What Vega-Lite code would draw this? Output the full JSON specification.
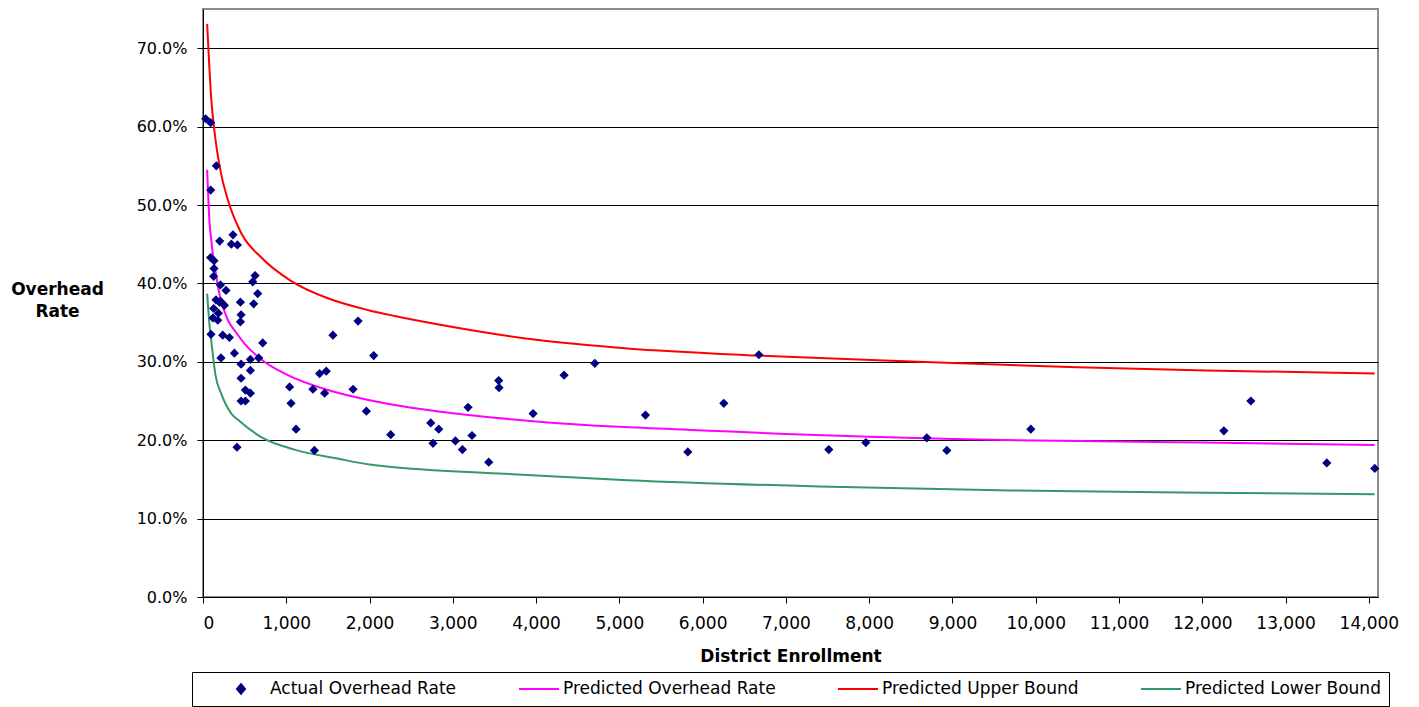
{
  "$schema": "https://vega.github.io/schema/vega-lite/v6.json",
  "width": 1175,
  "height": 588,
  "autosize": {"type": "none"},
  "padding": {"left": 203, "top": 9, "right": 41, "bottom": 110},
  "background": "white",
  "config": {
    "font": "DejaVu Sans",
    "view": {"stroke": "#8c8c8c", "strokeWidth": 2},
    "axis": {"labelFont": "DejaVu Sans", "labelColor": "black", "titleColor": "black", "titleFont": "DejaVu Sans", "domainColor": "black", "tickColor": "black", "domainWidth": 1, "tickWidth": 1}
  },
  "data": {
    "values": [
      {"s": "Actual Overhead Rate", "x": 32, "y": 0.610},
      {"s": "Actual Overhead Rate", "x": 92, "y": 0.605},
      {"s": "Actual Overhead Rate", "x": 160, "y": 0.550},
      {"s": "Actual Overhead Rate", "x": 92, "y": 0.519},
      {"s": "Actual Overhead Rate", "x": 200, "y": 0.454},
      {"s": "Actual Overhead Rate", "x": 360, "y": 0.462},
      {"s": "Actual Overhead Rate", "x": 340, "y": 0.450},
      {"s": "Actual Overhead Rate", "x": 413, "y": 0.449},
      {"s": "Actual Overhead Rate", "x": 92, "y": 0.433},
      {"s": "Actual Overhead Rate", "x": 132, "y": 0.429},
      {"s": "Actual Overhead Rate", "x": 132, "y": 0.419},
      {"s": "Actual Overhead Rate", "x": 128, "y": 0.409},
      {"s": "Actual Overhead Rate", "x": 625, "y": 0.410},
      {"s": "Actual Overhead Rate", "x": 597, "y": 0.402},
      {"s": "Actual Overhead Rate", "x": 209, "y": 0.398},
      {"s": "Actual Overhead Rate", "x": 276, "y": 0.391},
      {"s": "Actual Overhead Rate", "x": 657, "y": 0.387},
      {"s": "Actual Overhead Rate", "x": 156, "y": 0.379},
      {"s": "Actual Overhead Rate", "x": 213, "y": 0.377},
      {"s": "Actual Overhead Rate", "x": 197, "y": 0.376},
      {"s": "Actual Overhead Rate", "x": 257, "y": 0.372},
      {"s": "Actual Overhead Rate", "x": 449, "y": 0.376},
      {"s": "Actual Overhead Rate", "x": 609, "y": 0.374},
      {"s": "Actual Overhead Rate", "x": 128, "y": 0.368},
      {"s": "Actual Overhead Rate", "x": 185, "y": 0.362},
      {"s": "Actual Overhead Rate", "x": 120, "y": 0.356},
      {"s": "Actual Overhead Rate", "x": 177, "y": 0.353},
      {"s": "Actual Overhead Rate", "x": 457, "y": 0.360},
      {"s": "Actual Overhead Rate", "x": 449, "y": 0.351},
      {"s": "Actual Overhead Rate", "x": 96, "y": 0.335},
      {"s": "Actual Overhead Rate", "x": 237, "y": 0.334},
      {"s": "Actual Overhead Rate", "x": 317, "y": 0.331},
      {"s": "Actual Overhead Rate", "x": 717, "y": 0.324},
      {"s": "Actual Overhead Rate", "x": 1560, "y": 0.334},
      {"s": "Actual Overhead Rate", "x": 377, "y": 0.311},
      {"s": "Actual Overhead Rate", "x": 216, "y": 0.305},
      {"s": "Actual Overhead Rate", "x": 457, "y": 0.297},
      {"s": "Actual Overhead Rate", "x": 569, "y": 0.303},
      {"s": "Actual Overhead Rate", "x": 669, "y": 0.305},
      {"s": "Actual Overhead Rate", "x": 569, "y": 0.289},
      {"s": "Actual Overhead Rate", "x": 457, "y": 0.279},
      {"s": "Actual Overhead Rate", "x": 509, "y": 0.264},
      {"s": "Actual Overhead Rate", "x": 569, "y": 0.260},
      {"s": "Actual Overhead Rate", "x": 457, "y": 0.250},
      {"s": "Actual Overhead Rate", "x": 509, "y": 0.250},
      {"s": "Actual Overhead Rate", "x": 1040, "y": 0.268},
      {"s": "Actual Overhead Rate", "x": 1057, "y": 0.247},
      {"s": "Actual Overhead Rate", "x": 1117, "y": 0.214},
      {"s": "Actual Overhead Rate", "x": 408, "y": 0.191},
      {"s": "Actual Overhead Rate", "x": 1338, "y": 0.187},
      {"s": "Actual Overhead Rate", "x": 1320, "y": 0.265},
      {"s": "Actual Overhead Rate", "x": 1460, "y": 0.260},
      {"s": "Actual Overhead Rate", "x": 1400, "y": 0.285},
      {"s": "Actual Overhead Rate", "x": 1480, "y": 0.288},
      {"s": "Actual Overhead Rate", "x": 1862, "y": 0.352},
      {"s": "Actual Overhead Rate", "x": 2050, "y": 0.308},
      {"s": "Actual Overhead Rate", "x": 1802, "y": 0.265},
      {"s": "Actual Overhead Rate", "x": 1962, "y": 0.237},
      {"s": "Actual Overhead Rate", "x": 2254, "y": 0.207},
      {"s": "Actual Overhead Rate", "x": 2735, "y": 0.222},
      {"s": "Actual Overhead Rate", "x": 2831, "y": 0.214},
      {"s": "Actual Overhead Rate", "x": 2762, "y": 0.196},
      {"s": "Actual Overhead Rate", "x": 3031, "y": 0.199},
      {"s": "Actual Overhead Rate", "x": 3115, "y": 0.188},
      {"s": "Actual Overhead Rate", "x": 3230, "y": 0.206},
      {"s": "Actual Overhead Rate", "x": 3183, "y": 0.242},
      {"s": "Actual Overhead Rate", "x": 3431, "y": 0.172},
      {"s": "Actual Overhead Rate", "x": 3551, "y": 0.276},
      {"s": "Actual Overhead Rate", "x": 3555, "y": 0.267},
      {"s": "Actual Overhead Rate", "x": 3964, "y": 0.234},
      {"s": "Actual Overhead Rate", "x": 4336, "y": 0.283},
      {"s": "Actual Overhead Rate", "x": 4705, "y": 0.298},
      {"s": "Actual Overhead Rate", "x": 5313, "y": 0.232},
      {"s": "Actual Overhead Rate", "x": 5822, "y": 0.185},
      {"s": "Actual Overhead Rate", "x": 6254, "y": 0.247},
      {"s": "Actual Overhead Rate", "x": 6675, "y": 0.309},
      {"s": "Actual Overhead Rate", "x": 7515, "y": 0.188},
      {"s": "Actual Overhead Rate", "x": 7960, "y": 0.197},
      {"s": "Actual Overhead Rate", "x": 8692, "y": 0.203},
      {"s": "Actual Overhead Rate", "x": 8932, "y": 0.187},
      {"s": "Actual Overhead Rate", "x": 9941, "y": 0.214},
      {"s": "Actual Overhead Rate", "x": 12259, "y": 0.212},
      {"s": "Actual Overhead Rate", "x": 12583, "y": 0.250},
      {"s": "Actual Overhead Rate", "x": 13495, "y": 0.171},
      {"s": "Actual Overhead Rate", "x": 14071, "y": 0.164},

      {"s": "Predicted Overhead Rate", "x": 50, "y": 0.545},
      {"s": "Predicted Overhead Rate", "x": 80, "y": 0.475},
      {"s": "Predicted Overhead Rate", "x": 100, "y": 0.455},
      {"s": "Predicted Overhead Rate", "x": 120, "y": 0.435},
      {"s": "Predicted Overhead Rate", "x": 150, "y": 0.415},
      {"s": "Predicted Overhead Rate", "x": 200, "y": 0.385},
      {"s": "Predicted Overhead Rate", "x": 300, "y": 0.353},
      {"s": "Predicted Overhead Rate", "x": 400, "y": 0.337},
      {"s": "Predicted Overhead Rate", "x": 500, "y": 0.323},
      {"s": "Predicted Overhead Rate", "x": 700, "y": 0.303},
      {"s": "Predicted Overhead Rate", "x": 1000, "y": 0.284},
      {"s": "Predicted Overhead Rate", "x": 1500, "y": 0.264},
      {"s": "Predicted Overhead Rate", "x": 2000, "y": 0.251},
      {"s": "Predicted Overhead Rate", "x": 2500, "y": 0.2415},
      {"s": "Predicted Overhead Rate", "x": 3000, "y": 0.2345},
      {"s": "Predicted Overhead Rate", "x": 4000, "y": 0.224},
      {"s": "Predicted Overhead Rate", "x": 5000, "y": 0.217},
      {"s": "Predicted Overhead Rate", "x": 6000, "y": 0.2125},
      {"s": "Predicted Overhead Rate", "x": 7000, "y": 0.208},
      {"s": "Predicted Overhead Rate", "x": 8000, "y": 0.2045},
      {"s": "Predicted Overhead Rate", "x": 9000, "y": 0.2015},
      {"s": "Predicted Overhead Rate", "x": 10000, "y": 0.1995},
      {"s": "Predicted Overhead Rate", "x": 11000, "y": 0.1985},
      {"s": "Predicted Overhead Rate", "x": 12000, "y": 0.197},
      {"s": "Predicted Overhead Rate", "x": 13000, "y": 0.1955},
      {"s": "Predicted Overhead Rate", "x": 14070, "y": 0.194},

      {"s": "Predicted Upper Bound", "x": 50, "y": 0.731},
      {"s": "Predicted Upper Bound", "x": 100, "y": 0.634},
      {"s": "Predicted Upper Bound", "x": 140, "y": 0.592},
      {"s": "Predicted Upper Bound", "x": 200, "y": 0.549},
      {"s": "Predicted Upper Bound", "x": 300, "y": 0.506},
      {"s": "Predicted Upper Bound", "x": 460, "y": 0.464},
      {"s": "Predicted Upper Bound", "x": 700, "y": 0.433},
      {"s": "Predicted Upper Bound", "x": 1060, "y": 0.403},
      {"s": "Predicted Upper Bound", "x": 1500, "y": 0.381},
      {"s": "Predicted Upper Bound", "x": 2000, "y": 0.3655},
      {"s": "Predicted Upper Bound", "x": 2300, "y": 0.3585},
      {"s": "Predicted Upper Bound", "x": 3000, "y": 0.3445},
      {"s": "Predicted Upper Bound", "x": 4000, "y": 0.328},
      {"s": "Predicted Upper Bound", "x": 5100, "y": 0.317},
      {"s": "Predicted Upper Bound", "x": 6650, "y": 0.308},
      {"s": "Predicted Upper Bound", "x": 8600, "y": 0.300},
      {"s": "Predicted Upper Bound", "x": 10500, "y": 0.293},
      {"s": "Predicted Upper Bound", "x": 12050, "y": 0.289},
      {"s": "Predicted Upper Bound", "x": 14070, "y": 0.285},

      {"s": "Predicted Lower Bound", "x": 50, "y": 0.387},
      {"s": "Predicted Lower Bound", "x": 80, "y": 0.345},
      {"s": "Predicted Lower Bound", "x": 100, "y": 0.326},
      {"s": "Predicted Lower Bound", "x": 150, "y": 0.283},
      {"s": "Predicted Lower Bound", "x": 220, "y": 0.259},
      {"s": "Predicted Lower Bound", "x": 340, "y": 0.234},
      {"s": "Predicted Lower Bound", "x": 420, "y": 0.226},
      {"s": "Predicted Lower Bound", "x": 700, "y": 0.204},
      {"s": "Predicted Lower Bound", "x": 1100, "y": 0.188},
      {"s": "Predicted Lower Bound", "x": 1640, "y": 0.176},
      {"s": "Predicted Lower Bound", "x": 2000, "y": 0.169},
      {"s": "Predicted Lower Bound", "x": 3550, "y": 0.1575},
      {"s": "Predicted Lower Bound", "x": 5100, "y": 0.149},
      {"s": "Predicted Lower Bound", "x": 7400, "y": 0.141},
      {"s": "Predicted Lower Bound", "x": 9700, "y": 0.136},
      {"s": "Predicted Lower Bound", "x": 12050, "y": 0.133},
      {"s": "Predicted Lower Bound", "x": 14070, "y": 0.131}
    ]
  },
  "encoding": {
    "x": {
      "field": "x", "type": "quantitative",
      "scale": {"domain": [0, 14110], "nice": false, "zero": true},
      "axis": {
        "values": [0,1000,2000,3000,4000,5000,6000,7000,8000,9000,10000,11000,12000,13000,14000],
        "format": ",d", "grid": false, "tickSize": 6, "labelPadding": 12, "labelFontSize": 17,
        "labelBaseline": "top",
        "title": "District Enrollment", "titleFontSize": 17, "titleFontWeight": "bold",
        "titleBaseline": "alphabetic", "titleY": 64
      }
    },
    "y": {
      "field": "y", "type": "quantitative",
      "scale": {"domain": [0, 0.75], "nice": false},
      "axis": {
        "values": [0,0.1,0.2,0.3,0.4,0.5,0.6,0.7],
        "format": ".1%", "grid": true, "gridColor": "black", "gridOpacity": 1, "gridWidth": 1,
        "tickSize": 6, "labelPadding": 10, "labelFontSize": 16,
        "title": ["Overhead", "Rate"], "titleAngle": 0, "titleAlign": "center", "titleBaseline": "alphabetic",
        "titleX": -146, "titleY": 285, "titleLineHeight": 22, "titleFontSize": 17, "titleFontWeight": "bold"
      }
    }
  },
  "layer": [
    {
      "transform": [{"filter": "datum.s !== 'Actual Overhead Rate'"}],
      "mark": {"type": "line", "interpolate": "monotone"},
      "encoding": {
        "color": {
          "field": "s", "type": "nominal",
          "scale": {"domain": ["Actual Overhead Rate", "Predicted Overhead Rate", "Predicted Upper Bound", "Predicted Lower Bound"], "range": ["#000080", "#FF00FF", "#FF0000", "#339966"]},
          "legend": {
            "title": null, "orient": "none", "legendX": -11, "legendY": 663, "direction": "horizontal",
            "columnPadding": 61, "padding": 8, "strokeColor": "black", "fillColor": "white",
            "labelFont": "DejaVu Sans", "labelFontSize": 17, "labelColor": "black", "labelLimit": 400, "labelOffset": 3,
            "symbolSize": 1600, "symbolStrokeWidth": 2, "clipHeight": 18,
            "encode": {
              "symbols": {"update": {
                "shape": {"signal": "datum.value === 'Actual Overhead Rate' ? 'M-1,0M1.0,-0.24L1.2,0L1.0,0.24L0.8,0Z' : 'stroke'"},
                "size": {"value": 1600},
                "strokeWidth": {"value": 2},
                "fill": {"signal": "datum.value === 'Actual Overhead Rate' ? '#000080' : 'transparent'"},
                "stroke": {"signal": "datum.value === 'Actual Overhead Rate' ? 'transparent' : (datum.value === 'Predicted Overhead Rate' ? '#FF00FF' : (datum.value === 'Predicted Upper Bound' ? '#FF0000' : '#339966'))"},
                "opacity": {"value": 1}
              }},
              "labels": {"update": {
                "dx": {"signal": "datum.value === 'Actual Overhead Rate' ? 25 : 0"}
              }}
            }
          }
        },
        "strokeWidth": {
          "field": "s", "type": "nominal",
          "scale": {"domain": ["Predicted Overhead Rate", "Predicted Upper Bound", "Predicted Lower Bound"], "range": [2, 2, 1.2]},
          "legend": null
        }
      }
    },
    {
      "transform": [{"filter": "datum.s === 'Actual Overhead Rate'"}],
      "mark": {"type": "point", "shape": "diamond", "filled": true, "size": 85, "opacity": 1},
      "encoding": {
        "color": {"field": "s", "type": "nominal"}
      }
    }
  ]
}
